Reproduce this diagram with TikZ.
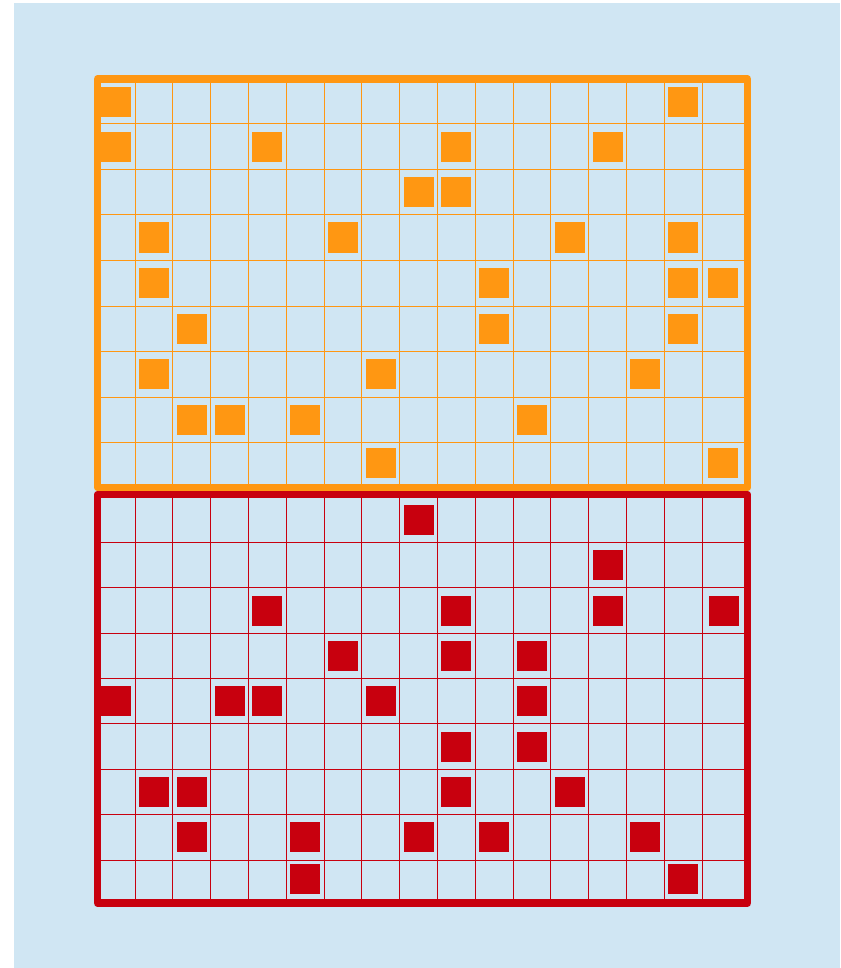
\documentclass[tikz,border=0pt]{standalone}
\definecolor{bgblue}{HTML}{D0E6F3}
\definecolor{gorange}{HTML}{FF9712}
\definecolor{gred}{HTML}{C8000E}
\tikzset{
  gridline/.style={line width=1pt},
  frameline/.style={line width=7.5pt, line join=round},
}
\begin{document}
\begin{tikzpicture}[x=1pt,y=-1pt]
\useasboundingbox (0,0) rectangle (840,968);
\fill[bgblue] (14,3) rectangle (840,968);
% ---- top (orange) panel grid
\foreach \k in {0,...,15}
  \draw[gridline,gorange] (135+37.8*\k,79) -- (135+37.8*\k,487.5);
\foreach \y in {124,169.5,215,260.5,306,351.5,397,442.3}
  \draw[gridline,gorange] (97.5,\y) -- (747.5,\y);
% ---- bottom (red) panel grid
\foreach \k in {0,...,15}
  \draw[gridline,gred] (135+37.8*\k,494.5) -- (135+37.8*\k,903);
\foreach \y in {542.3,587.7,633.3,678.7,723.7,769.3,814.3,860}
  \draw[gridline,gred] (97.5,\y) -- (747.5,\y);
% ---- top squares
\foreach \c/\r in {1/1,16/1,
  1/2,5/2,10/2,14/2,
  9/3,10/3,
  2/4,7/4,13/4,16/4,
  2/5,11/5,16/5,17/5,
  3/6,11/6,16/6,
  2/7,8/7,15/7,
  3/8,4/8,6/8,12/8,
  8/9,17/9}{
  \pgfmathsetmacro{\xx}{\c==17 ? 722.5 : 116.1+37.8*(\c-1)}
  \pgfmathsetmacro{\yy}{{102.5,146.8,192.3,237.5,283,328.5,374,419.5,462.5}[\r-1]}
  \fill[gorange] (\xx-15,\yy-15) rectangle (\xx+15,\yy+15);
}
% ---- bottom squares
\foreach \c/\r in {9/1,
  14/2,
  5/3,10/3,14/3,17/3,
  7/4,10/4,12/4,
  1/5,4/5,5/5,8/5,12/5,
  10/6,12/6,
  2/7,3/7,10/7,13/7,
  3/8,6/8,9/8,11/8,15/8,
  6/9,16/9}{
  \pgfmathsetmacro{\xx}{\c==17 ? 724 : 116.1+37.8*(\c-1)}
  \pgfmathsetmacro{\yy}{{519.5,565,610.5,656,701.2,746.5,791.8,837,879}[\r-1]}
  \fill[gred] (\xx-15,\yy-15) rectangle (\xx+15,\yy+15);
}
% ---- frames
\draw[frameline,gred] (97.5,494.5) rectangle (747.5,903);
\draw[frameline,gorange] (97.5,79) rectangle (747.5,487.5);
\end{tikzpicture}
\end{document}
